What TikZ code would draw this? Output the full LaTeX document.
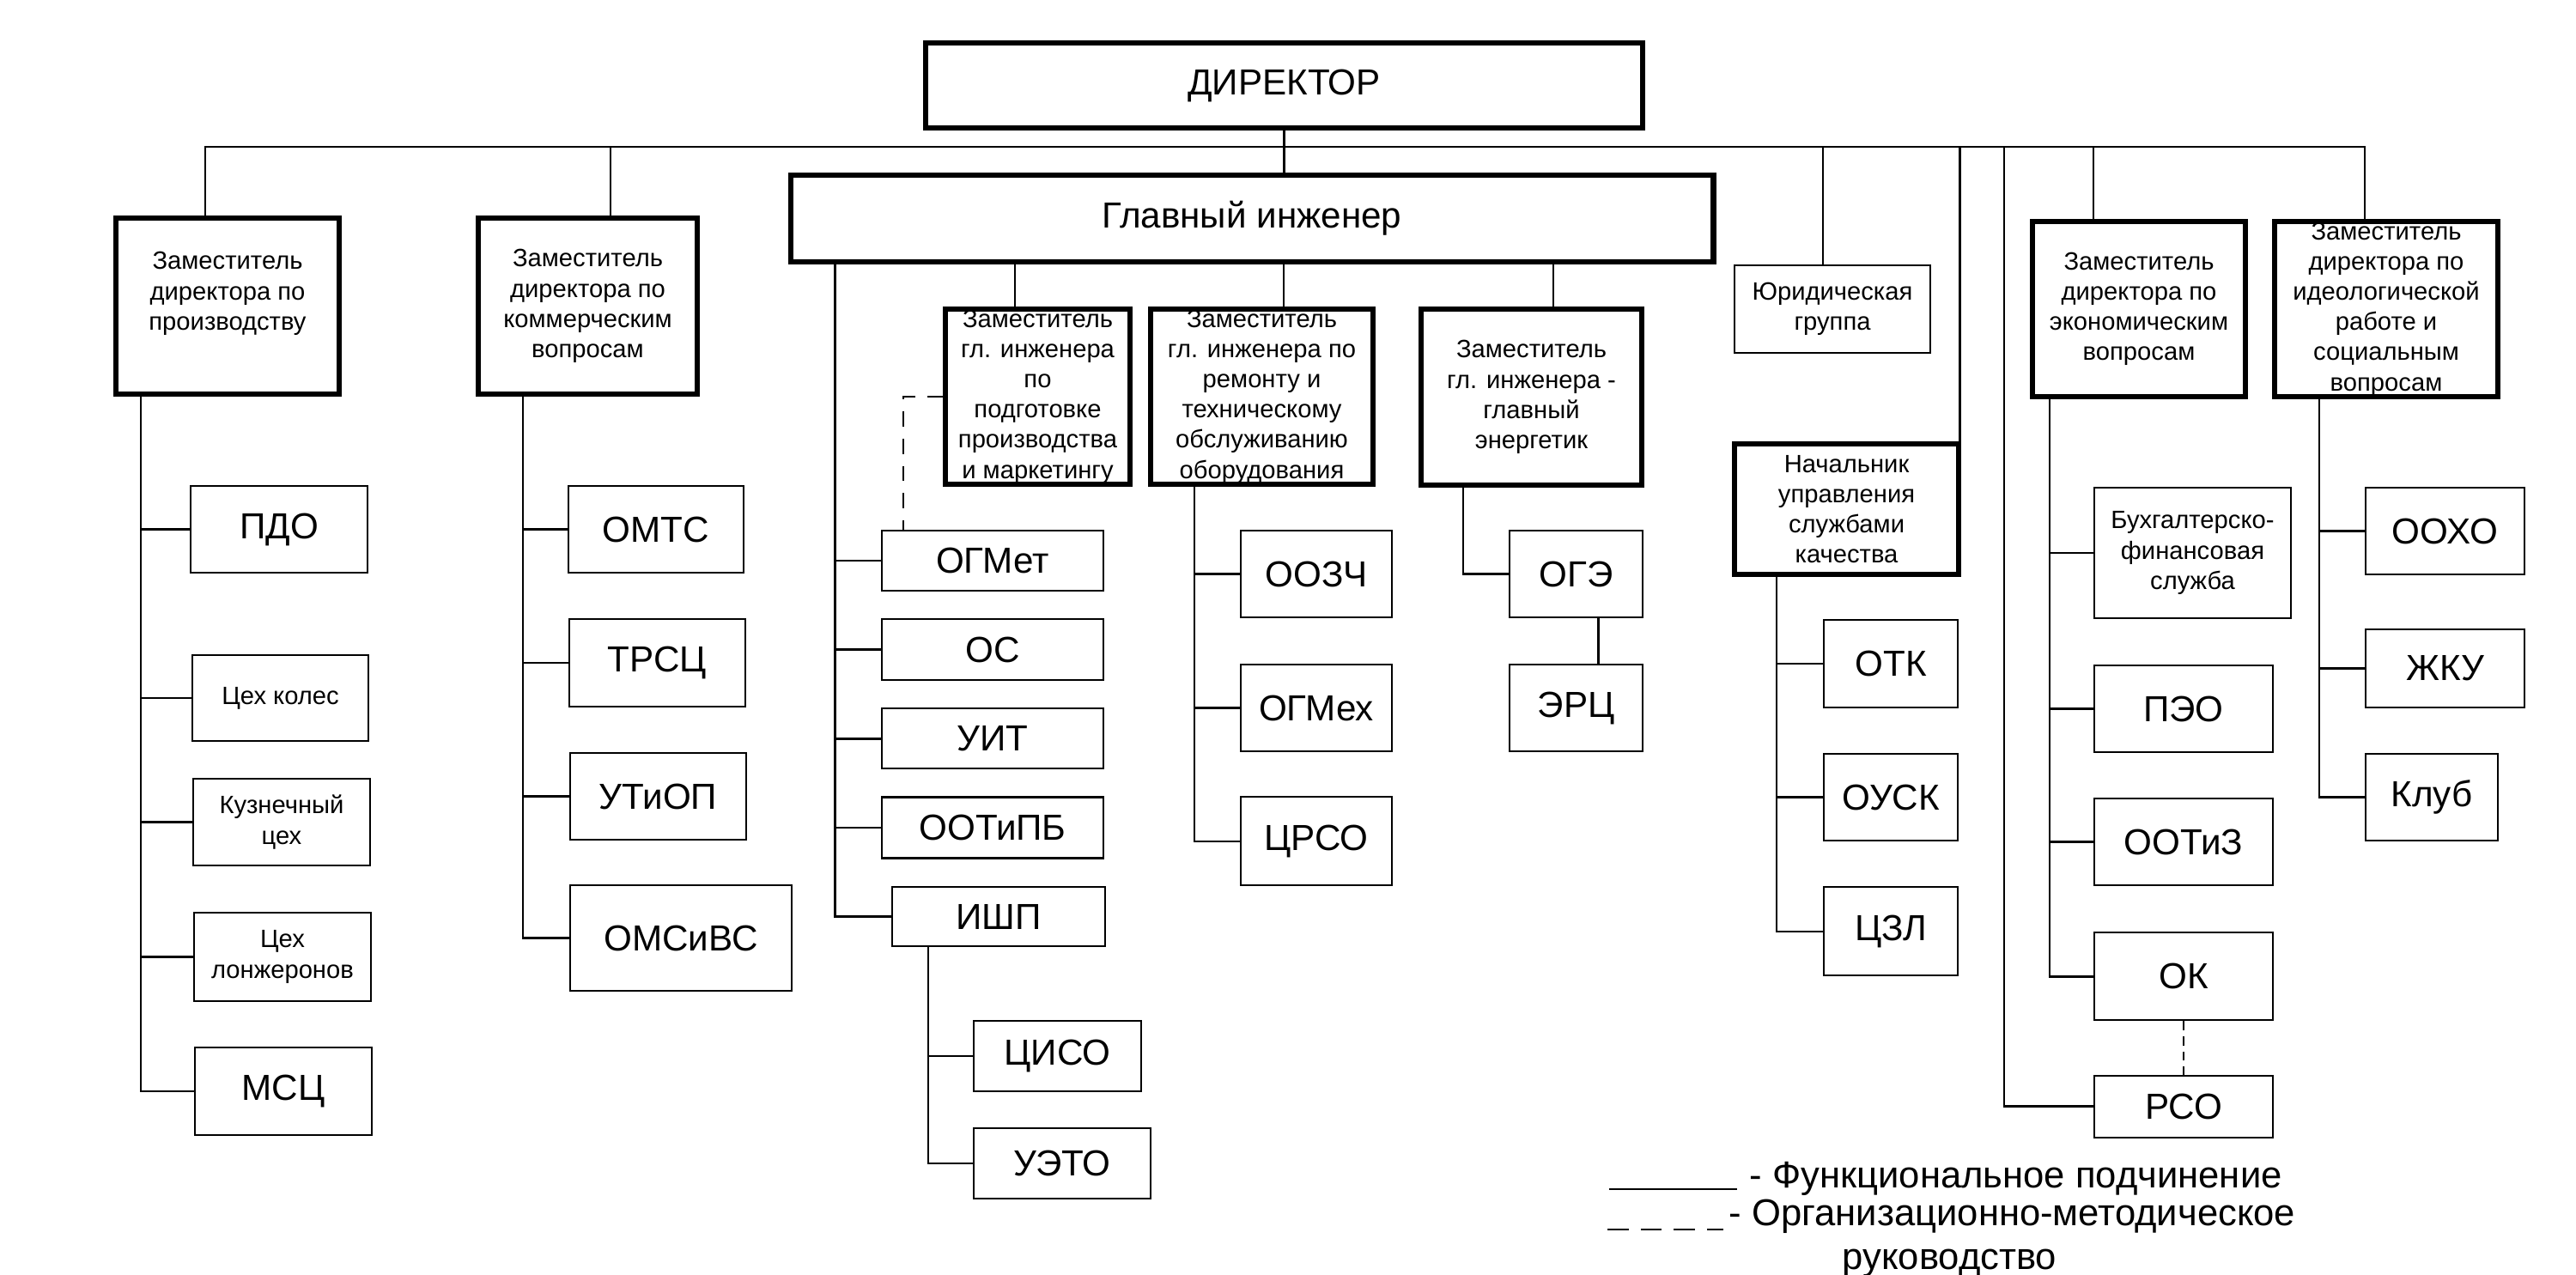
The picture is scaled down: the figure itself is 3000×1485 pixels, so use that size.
\documentclass[tikz,border=0pt]{standalone}
\usepackage{fontspec}
\setmainfont{Liberation Sans}
\usetikzlibrary{positioning}

\begin{document}
\begin{tikzpicture}[x=0.01cm,y=-0.01cm,node distance=0.52cm,
        sz/.style 2 args={minimum width=#1cm,minimum height=#2cm},
        unit/.style={draw,line width=0.6pt,align=center,inner sep=0pt,font=\fontsize{12}{14}\selectfont},
        small/.style={font=\fontsize{8.3}{10}\selectfont},
        big/.style={font=\fontsize{12}{14}\selectfont},
        head/.style={unit,small,line width=1.8pt},
        link/.style={line width=0.7pt},
        method/.style={link,dash pattern=on 5pt off 4pt},
        legend/.style={inner sep=0pt,font=\fontsize{12.4}{14}\selectfont}]

  \useasboundingbox (0,0) rectangle (3000,1485);

  \node[head,big,sz={8.35}{0.99}]   (dir)  at (1495.5,99.5) {ДИРЕКТОР};
  \node[head,big,sz={10.74}{1.01}]  (gi)   at (1458,254.5)  {Главный инженер};

  \node[head,sz={2.60}{2.05}] (zp)   at (265,356.5)   {Заместитель\\директора по\\производству\\\mbox{}};
  \node[head,sz={2.55}{2.05}] (zk)   at (684.5,356.5) {Заместитель\\директора по\\коммерческим\\вопросам};
  \node[head,sz={2.15}{2.04}] (zgi1) at (1208.5,462)  {Заместитель\\гл. инженера\\по\\подготовке\\производства\\и маркетингу};
  \node[head,sz={2.59}{2.04}] (zgi2) at (1469.5,462)  {Заместитель\\гл. инженера по\\ремонту и\\техническому\\обслуживанию\\оборудования};
  \node[head,sz={2.57}{2.05}] (zgi3) at (1783.5,462.5){Заместитель\\гл. инженера -\\главный\\энергетик};
  \node[unit,small,sz={2.28}{1.02}] (yur) at (2134,360) {Юридическая\\группа};
  \node[head,sz={2.61}{1.52}] (nach) at (2150.5,593)  {Начальник\\управления\\службами\\качества};
  \node[head,sz={2.48}{2.04}] (ze)   at (2491,360)    {Заместитель\\директора по\\экономическим\\вопросам};
  \node[head,sz={2.60}{2.04}] (zi)   at (2779,360)    {Заместитель\\директора по\\идеологической\\работе и\\социальным\\вопросам};

  % production
  \node[unit,sz={2.06}{1.01}]       (pdo)   at (325,616.5)  {ПДО};
  \node[unit,small,sz={2.05}{1.00}] (cheh)  at (326.5,813)  {Цех колес};
  \node[unit,small,sz={2.06}{1.01}] (kuzn)  at (328,957.5)  {Кузнечный\\цех};
  \node[unit,small,sz={2.06}{1.03}] (lonzh) at (329,1114.5) {Цех\\лонжеронов};
  \node[unit,sz={2.06}{1.02}]       (msc)   at (330,1271)   {МСЦ};

  % commerce
  \node[unit,sz={2.04}{1.01}] (omts)   at (764,616.5)   {ОМТС};
  \node[unit,sz={2.05}{1.02}] (trsc)   at (765.5,772)   {ТРСЦ};
  \node[unit,sz={2.05}{1.01}] (utiop)  at (766.5,927.5) {УТиОП};
  \node[unit,sz={2.58}{1.23}] (omsivs) at (793,1092.5)  {ОМСиВС};

  % chief engineer
  \node[unit,sz={2.58}{0.70}] (ogmet)  at (1156,653) {ОГМет};
  \node[unit,sz={2.58}{0.71}] (os)     [below=0.31cm of ogmet] {ОС};
  \node[unit,sz={2.58}{0.70}] (uit)    [below=0.31cm of os] {УИТ};
  \node[unit,sz={2.58}{0.71}] (ootipb) [below=0.31cm of uit] {ООТиПБ};
  \node[unit,sz={2.48}{0.69}] (ishp)   at (1163,1067.5) {ИШП};
  \node[unit,sz={1.95}{0.82}] (ciso)   at (1231.5,1230) {ЦИСО};
  \node[unit,sz={2.06}{0.82}] (ueto)   at (1237,1355)   {УЭТО};

  \node[unit,sz={1.76}{1.01}] (oozch) at (1533,668.5) {ООЗЧ};
  \node[unit,sz={1.76}{1.01}] (ogmeh) [below=0.53cm of oozch] {ОГМех};
  \node[unit,sz={1.76}{1.03}] (crso)  [below=0.51cm of ogmeh] {ЦРСО};

  \node[unit,sz={1.55}{1.01}] (oge) at (1835.5,668.5) {ОГЭ};
  \node[unit,sz={1.55}{1.01}] (erc) [below=0.53cm of oge] {ЭРЦ};

  % quality
  \node[unit,sz={1.56}{1.02}] (otk)  at (2202,773) {ОТК};
  \node[unit,sz={1.56}{1.01}] (ousk) [below=of otk] {ОУСК};
  \node[unit,sz={1.56}{1.03}] (czl)  [below=of ousk] {ЦЗЛ};

  % economy
  \node[unit,small,sz={2.29}{1.52}] (buh) at (2553.5,644) {Бухгалтерско-\\финансовая\\служба};
  \node[unit,sz={2.08}{1.01}] (peo)   at (2543,825.5) {ПЭО};
  \node[unit,sz={2.08}{1.01}] (ootiz) [below=of peo] {ООТиЗ};
  \node[unit,sz={2.08}{1.02}] (ok)    [below=0.53cm of ootiz] {ОК};
  \node[unit,sz={2.08}{0.72}] (rso)   [below=0.62cm of ok] {РСО};

  % ideology
  \node[unit,sz={1.85}{1.01}] (ooho) at (2847.5,618.5) {ООХО};
  \node[unit,sz={1.85}{0.91}] (zhku) at (2847.5,778.5) {ЖКУ};
  \node[unit,sz={1.54}{1.01}] (klub) at (2832,928.5)   {Клуб};

  % director links
  \coordinate (bus) at ([yshift=-0.19cm]dir.south);
  \draw[link] (dir.south) -- (dir.south |- gi.north);
  \draw[link] ([xshift=-0.26cm]zp.north) |- (bus) -| ([xshift=-0.25cm]zi.north);
  \draw[link] (bus) -| ([xshift=0.265cm]zk.north);
  \draw[link] (bus) -| ([xshift=-0.11cm]yur.north);
  \draw[link] (bus) -| ([xshift=-0.02cm]nach.north east);
  \draw[link] (bus) -| ([xshift=-0.53cm]ze.north);
  \coordinate (rsoline) at ([xshift=-1.04cm]rso.west);
  \draw[link] (bus) -| (rsoline) -- (rso.west);

  \coordinate (g1) at ([xshift=-0.265cm]zgi1.north);
  \coordinate (g2) at ([xshift=0.255cm]zgi2.north);
  \coordinate (g3) at ([xshift=0.255cm]zgi3.north);
  \foreach \g in {g1,g2,g3}
    \draw[link] (\g) -- (\g |- gi.south);

  \foreach \n in {pdo,cheh,kuzn,lonzh,msc}
    \draw[link] ([xshift=-1.01cm]zp.south) |- (\n.west);
  \foreach \n in {omts,trsc,utiop,omsivs}
    \draw[link] ([xshift=-0.755cm]zk.south) |- (\n.west);
  \foreach \n in {ogmet,os,uit,ootipb,ishp}
    \draw[link] ([xshift=0.55cm]gi.south west) |- (\n.west);
  \foreach \n in {ciso,ueto}
    \draw[link] ([xshift=0.43cm]ishp.south west) |- (\n.west);
  \foreach \n in {oozch,ogmeh,crso}
    \draw[link] ([xshift=0.54cm]zgi2.south west) |- (\n.west);
  \draw[link] ([xshift=0.52cm]zgi3.south west) |- (oge.west);
  \draw[link] ([xshift=0.26cm]oge.south) -- ([xshift=0.26cm]erc.north);
  \foreach \n in {otk,ousk,czl}
    \draw[link] ([xshift=0.52cm]nach.south west) |- (\n.west);
  \foreach \n in {buh,peo,ootiz,ok}
    \draw[link] ([xshift=0.23cm]ze.south west) |- (\n.west);
  \foreach \n in {ooho,zhku,klub}
    \draw[link] ([xshift=0.55cm]zi.south west) |- (\n.west);

  \draw[method] (zgi1.west) -| ([xshift=0.26cm]ogmet.north west);
  \draw[link,densely dashed] (ok) -- (rso);

  % legend
  \coordinate (fa) at (1874,1385);
  \coordinate (fb) at (2023,1385);
  \draw[link] (fa) -- (fb);
  \node[legend,anchor=base west] (func) at (2037,1383) {- Функциональное подчинение};
  \coordinate (ma) at (1872,1432);
  \coordinate (mb) at (2007,1432);
  \draw[link,dash pattern=on 7pt off 4pt] (ma) -- (mb);
  \node[legend,anchor=base west] (meth)  at (2013,1427) {- Организационно-методическое};
  \node[legend,anchor=base west] (meth2) at (2145,1478) {руководство};
\end{tikzpicture}
\end{document}
